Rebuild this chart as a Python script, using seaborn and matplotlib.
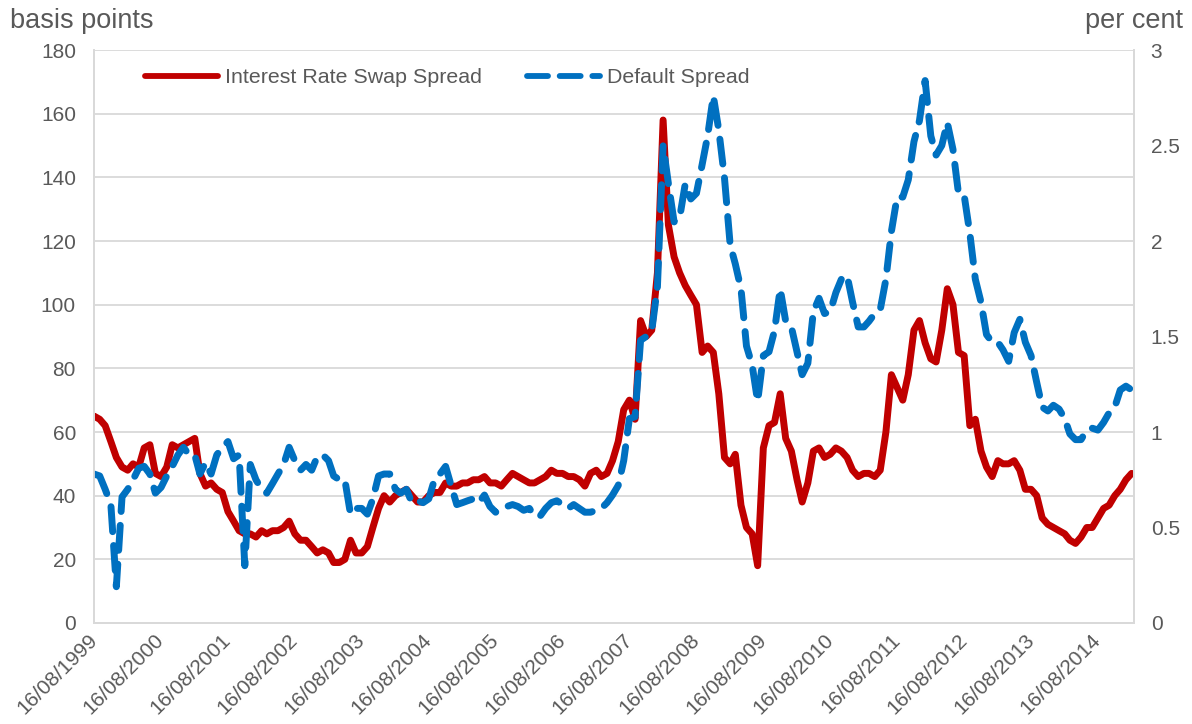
import matplotlib
matplotlib.use("Agg")
import matplotlib.pyplot as plt
import seaborn as sns
import pandas as pd

# ---- data (monthly readings, Aug 1999 .. Feb 2015) ----
start_date = "1999-08-16"
n_months = 187

swap_spread_bp = [
    65, 64, 62, 57, 52, 49, 48, 50, 49, 55, 56, 47,
    46, 49, 56, 55, 56, 57, 58, 47, 43, 44, 42, 41,
    35, 32, 29, 28, 28, 27, 29, 28, 29, 29, 30, 32,
    28, 26, 26, 24, 22, 23, 22, 19, 19, 20, 26, 22,
    22, 24, 30, 36, 40, 38, 40, 41, 42, 40, 38, 38,
    40, 41, 41, 44, 43, 43, 44, 44, 45, 45, 46, 44,
    44, 43, 45, 47, 46, 45, 44, 44, 45, 46, 48, 47,
    47, 46, 46, 45, 43, 47, 48, 46, 47, 51, 57, 67,
    70, 64, 95, 90, 92, 110, 158, 125, 115, 110, 106, 103,
    100, 85, 87, 85, 72, 52, 50, 53, 37, 30, 28, 18,
    55, 62, 63, 72, 58, 54, 45, 38, 44, 54, 55, 52,
    53, 55, 54, 52, 48, 46, 47, 47, 46, 48, 60, 78,
    74, 70, 78, 92, 95, 88, 83, 82, 92, 105, 100, 85,
    84, 62, 64, 54, 49, 46, 51, 50, 50, 51, 48, 42,
    42, 40, 33, 31, 30, 29, 28, 26, 25, 27, 30, 30,
    33, 36, 37, 40, 42, 45, 47,
]

default_spread_pct = [
    0.78, 0.77, 0.70, 0.62, 0.19, 0.66, 0.70, 0.75, 0.81, 0.82, 0.78, 0.68,
    0.71, 0.77, 0.82, 0.88, 0.92, 0.88, 0.88, 0.78, 0.84, 0.78, 0.88, 0.92,
    0.95, 0.86, 0.88, 0.30, 0.83, 0.75, 0.70, 0.68, 0.73, 0.78, 0.83, 0.92,
    0.85, 0.80, 0.83, 0.80, 0.87, 0.88, 0.85, 0.77, 0.75, 0.75, 0.57, 0.60,
    0.60, 0.57, 0.65, 0.77, 0.78, 0.78, 0.70, 0.68, 0.70, 0.63, 0.64, 0.63,
    0.65, 0.75, 0.78, 0.82, 0.72, 0.62, 0.63, 0.64, 0.65, 0.63, 0.67, 0.61,
    0.58, 0.60, 0.61, 0.62, 0.61, 0.59, 0.60, 0.56, 0.56, 0.60, 0.63, 0.64,
    0.62, 0.60, 0.62, 0.60, 0.58, 0.58, 0.59, 0.60, 0.63, 0.67, 0.72, 0.85,
    1.07, 1.08, 1.48, 1.50, 1.53, 1.76, 2.50, 2.30, 2.10, 2.12, 2.30, 2.22,
    2.25, 2.40, 2.55, 2.76, 2.58, 2.33, 1.98, 1.88, 1.75, 1.45, 1.35, 1.16,
    1.40, 1.42, 1.53, 1.75, 1.58, 1.55, 1.42, 1.30, 1.36, 1.63, 1.70, 1.62,
    1.63, 1.73, 1.80, 1.82, 1.68, 1.55, 1.55, 1.58, 1.62, 1.64, 1.80, 2.05,
    2.23, 2.23, 2.32, 2.52, 2.63, 2.84, 2.55, 2.45, 2.50, 2.62, 2.48, 2.25,
    2.24, 2.04, 1.80, 1.68, 1.51, 1.47, 1.47, 1.43, 1.37, 1.52, 1.59, 1.47,
    1.40, 1.26, 1.13, 1.11, 1.14, 1.12, 1.07, 0.99, 0.96, 0.96, 1.01, 1.02,
    1.01, 1.05, 1.10, 1.13, 1.22, 1.24, 1.22,
]

tick_years = list(range(1999, 2015))
left_ticks = [0, 20, 40, 60, 80, 100, 120, 140, 160, 180]
right_ticks = [0, 0.5, 1, 1.5, 2, 2.5, 3]
right_tick_labels = ["0", "0.5", "1", "1.5", "2", "2.5", "3"]

series_names = ["Interest Rate Swap Spread", "Default Spread"]

dates = pd.date_range(start_date, periods=n_months, freq=pd.DateOffset(months=1))
df = pd.DataFrame({"date": dates, "swap": swap_spread_bp, "default": default_spread_pct})

# ---- style ----
sns.set_theme(style="white")
plt.rcParams["font.family"] = ["Liberation Sans", "DejaVu Sans"]
TXT = "#595959"
GRID = "#d9d9d9"
RED = "#C00000"
BLUE = "#0070C0"

fig = plt.figure(figsize=(11.92, 7.24), dpi=100)
ax = fig.add_axes([94 / 1192, 1 - 623 / 724, (1134 - 94) / 1192, (623 - 50) / 724])
ax2 = ax.twinx()

sns.lineplot(data=df, x="date", y="swap", ax=ax, color=RED, linewidth=5.0,
             label=series_names[0], legend=False, errorbar=None,
             solid_capstyle="round", solid_joinstyle="round")
sns.lineplot(data=df, x="date", y="default", ax=ax2, color=BLUE, linewidth=5.0,
             label=series_names[1], legend=False, errorbar=None,
             linestyle=(0, (3.6, 2.0)), dash_capstyle="round", dash_joinstyle="round")

ax.set_ylim(0, 180)
ax2.set_ylim(0, 3)
ax.set_yticks(left_ticks)
ax2.set_yticks(right_ticks)
ax2.set_yticklabels(right_tick_labels)
ax.set_xlim(pd.Timestamp("1999-08-16"), pd.Timestamp("2015-03-01"))

xt = [pd.Timestamp(f"{y}-08-16") for y in tick_years]
ax.set_xticks(xt)
ax.set_xticklabels([t.strftime("%d/%m/%Y") for t in xt], rotation=45,
                   ha="right", va="center", rotation_mode="anchor")

ax.set_xlabel("")
ax.set_ylabel("")
ax2.set_ylabel("")

ax.grid(axis="y", color=GRID, linewidth=1.3)
ax.set_axisbelow(True)
for a in (ax, ax2):
    for s in a.spines.values():
        s.set_color(GRID)
        s.set_linewidth(1.3)
    a.spines["top"].set_visible(False)

ax.tick_params(axis="y", length=0, pad=13, labelsize=15, labelcolor=TXT)
ax2.tick_params(axis="y", length=0, pad=12, labelsize=15, labelcolor=TXT)
ax.tick_params(axis="x", length=0, pad=10, labelsize=15, labelcolor=TXT)

fig.text(10 / 1192, 1 - 21 / 724, "basis points", fontsize=19.5, color=TXT,
         ha="left", va="center")
fig.text(1183 / 1192, 1 - 21 / 724, "per cent", fontsize=19.5, color=TXT,
         ha="right", va="center")

h1, l1 = ax.get_legend_handles_labels()
h2, l2 = ax2.get_legend_handles_labels()
leg = ax2.legend(h1 + h2, l1 + l2, loc="upper left", bbox_to_anchor=(0.049, 0.968),
                 ncol=2, frameon=False, fontsize=15.4, handlelength=3.4,
                 handletextpad=0.35, columnspacing=2.1, borderaxespad=0, borderpad=0)
for t in leg.get_texts():
    t.set_color(TXT)
for lh in leg.legend_handles:
    lh.set_linewidth(4.2)

fig.savefig("out.png", dpi=100)
